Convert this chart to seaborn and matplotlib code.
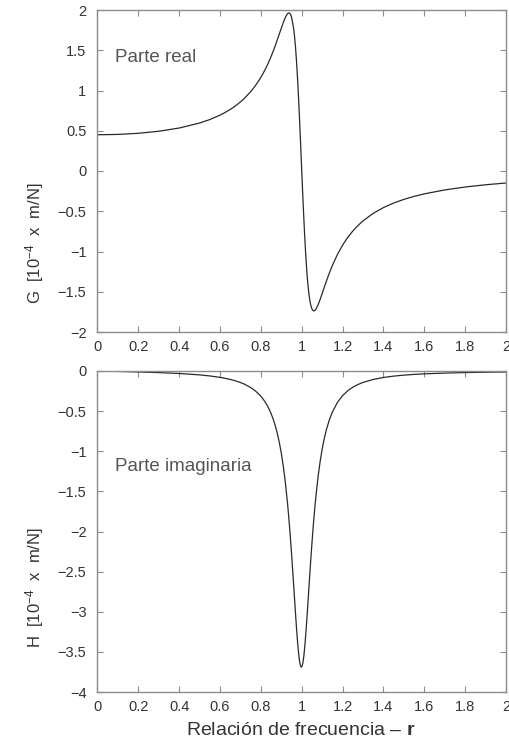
import numpy as np
import pandas as pd
import matplotlib
matplotlib.use("Agg")
import matplotlib.pyplot as plt
import seaborn as sns

# Frequency ratio r and read-off values (units 1e-4 m/N)
r_vals = [0.0, 0.1, 0.2, 0.3, 0.4, 0.5, 0.55, 0.6, 0.62, 0.65, 0.67, 0.7, 0.72, 0.75,
          0.77, 0.79, 0.8, 0.81, 0.82, 0.83, 0.84, 0.85, 0.86, 0.87, 0.88, 0.89,
          0.9, 0.91, 0.92, 0.93, 0.935, 0.94, 0.945, 0.95, 0.96, 0.965, 0.97, 0.975,
          0.98, 0.985, 0.99, 0.995, 1.0, 1.005, 1.01, 1.015, 1.02, 1.025, 1.03,
          1.035, 1.04, 1.045, 1.05, 1.055, 1.06, 1.065, 1.07, 1.08, 1.09, 1.1,
          1.11, 1.12, 1.135, 1.15, 1.175, 1.2, 1.225, 1.25, 1.275, 1.3, 1.35, 1.4,
          1.45, 1.5, 1.55, 1.6, 1.7, 1.8, 1.9, 2.0]
g_real = [0.450, 0.4545, 0.4684, 0.4937, 0.5339, 0.5961, 0.6392, 0.6940, 0.7201,
          0.7648, 0.7990, 0.8583, 0.9043, 0.9855, 1.0495, 1.1233, 1.1644, 1.2087,
          1.2565, 1.3079, 1.3633, 1.4229, 1.4867, 1.5547, 1.6264, 1.7006, 1.7755,
          1.8473, 1.9099, 1.9533, 1.9631, 1.9617, 1.9461, 1.9127, 1.7761, 1.6648,
          1.5200, 1.3395, 1.1234, 0.8741, 0.5976, 0.3026, 0.0, -0.2981, -0.5803,
          -0.8371, -1.0621, -1.2516, -1.4055, -1.5250, -1.6135, -1.6750, -1.7137,
          -1.7334, -1.7381, -1.7308, -1.7142, -1.6621, -1.5951, -1.5215, -1.4464,
          -1.3728, -1.2685, -1.1733, -1.0354, -0.9208, -0.8253, -0.7452, -0.6774,
          -0.6194, -0.5260, -0.4544, -0.3979, -0.3525, -0.3151, -0.2840, -0.2353,
          -0.1990, -0.1711, -0.1490]
h_imag = [0.0, -0.0056, -0.0119, -0.0199, -0.0310, -0.0485, -0.0615, -0.0794,
          -0.0885, -0.1050, -0.1185, -0.1437, -0.1649, -0.2061, -0.2422, -0.2880,
          -0.3157, -0.3473, -0.3837, -0.4257, -0.4746, -0.5317, -0.5990, -0.6788,
          -0.7740, -0.8882, -1.0260, -1.1931, -1.3956, -1.6404, -1.7804, -1.9327,
          -2.1000, -2.2736, -2.6532, -2.8499, -3.0435, -3.2271, -3.3917, -3.5280,
          -3.6273, -3.6822, -3.6885, -3.6458, -3.5574, -3.4296, -3.2715, -3.0918,
          -2.9000, -2.7036, -2.5088, -2.3205, -2.1417, -1.9740, -1.8185, -1.6754,
          -1.5444, -1.3161, -1.1277, -0.9723, -0.8439, -0.7373, -0.6094, -0.5104,
          -0.3900, -0.3064, -0.2464, -0.2020, -0.1684, -0.1424, -0.1053, -0.0808,
          -0.0638, -0.0516, -0.0425, -0.0355, -0.0258, -0.0195, -0.0152, -0.0121]

x_ticks = [0, 0.2, 0.4, 0.6, 0.8, 1.0, 1.2, 1.4, 1.6, 1.8, 2.0]
x_ticklabels = ["0", "0.2", "0.4", "0.6", "0.8", "1", "1.2", "1.4", "1.6", "1.8", "2"]
g_ticks = [-2, -1.5, -1, -0.5, 0, 0.5, 1, 1.5, 2]
g_ticklabels = ["\u22122", "\u22121.5", "\u22121", "\u22120.5", "0", "0.5", "1", "1.5", "2"]
h_ticks = [-4, -3.5, -3, -2.5, -2, -1.5, -1, -0.5, 0]
h_ticklabels = ["\u22124", "\u22123.5", "\u22123", "\u22122.5", "\u22122", "\u22121.5", "\u22121", "\u22120.5", "0"]

df = pd.DataFrame({"r": r_vals, "G": g_real, "H": h_imag})

sns.set_style("ticks")
plt.rcParams["font.family"] = ["Liberation Sans", "DejaVu Sans"]
plt.rcParams["mathtext.fontset"] = "custom"
plt.rcParams["mathtext.rm"] = "Liberation Sans"
plt.rcParams["mathtext.it"] = "Liberation Sans:italic"
plt.rcParams["mathtext.bf"] = "Liberation Sans:bold"

fig = plt.figure(figsize=(5.10, 7.41), dpi=100)
L, R = 97.5 / 510, 506 / 510
ax1 = fig.add_axes([L, 1 - 332 / 741, R - L, 322 / 741])
ax2 = fig.add_axes([L, 1 - 692 / 741, R - L, 321 / 741])

line_color = "#2a2a2a"
spine_color = "#8c8c8c"
text_color = "#333333"

sns.lineplot(data=df, x="r", y="G", ax=ax1, color=line_color, linewidth=0.9)
sns.lineplot(data=df, x="r", y="H", ax=ax2, color=line_color, linewidth=0.9)

for ax, yt, ytl, ylim in [(ax1, g_ticks, g_ticklabels, (-2, 2)),
                          (ax2, h_ticks, h_ticklabels, (-4, 0))]:
    ax.set_xlim(0, 2)
    ax.set_ylim(*ylim)
    ax.set_xticks(x_ticks)
    ax.set_xticklabels(x_ticklabels)
    ax.set_yticks(yt)
    ax.set_yticklabels(ytl)
    ax.tick_params(direction="in", top=True, right=True, length=4, width=0.8,
                   color=spine_color, labelsize=10.5, labelcolor=text_color, pad=6)
    ax.tick_params(axis="y", pad=8)
    for s in ax.spines.values():
        s.set_color(spine_color)
        s.set_linewidth(1.0)
    ax.set_xlabel("")
    ax.set_ylabel("")

fig.text(35 / 510, 1 - 243 / 741, r"G  [10$^{\mathregular{-4}}$  x  m/N]",
         rotation=90, ha="center", va="center", fontsize=12, color=text_color)
fig.text(35 / 510, 1 - 588 / 741, r"H  [10$^{\mathregular{-4}}$  x  m/N]",
         rotation=90, ha="center", va="center", fontsize=12, color=text_color)

fig.text(301 / 510, 6 / 741, r"Relación de frecuencia – $\mathbf{r}$",
         ha="center", va="baseline", fontsize=14, color=text_color)

ax1.text(0.043, 0.854, "Parte real", transform=ax1.transAxes, fontsize=13.5,
         color="#555555", va="center", ha="left")
ax2.text(0.043, 0.704, "Parte imaginaria", transform=ax2.transAxes, fontsize=13.5,
         color="#555555", va="center", ha="left")

fig.savefig("out.png", dpi=100, facecolor="white")
